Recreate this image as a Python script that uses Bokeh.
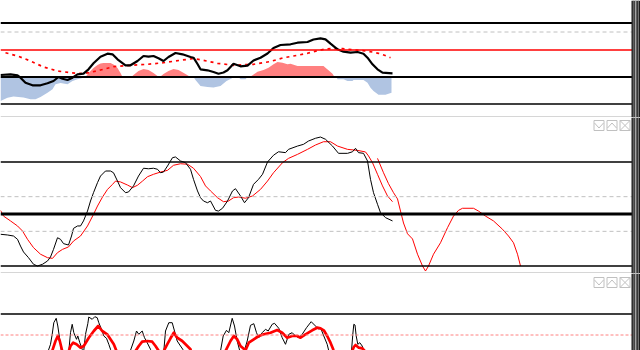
import numpy as np
from bokeh.plotting import figure
from bokeh.layouts import column
from bokeh.models import Range1d, Span, BoxAnnotation
from bokeh.embed import file_html
from bokeh.resources import INLINE

# ---------------- Panel 1: MACD-like oscillator ----------------
macd_x = [0,10,17,20,25,32,40,47,53,58,62,67,72,77,83,88,93,100,107,112,
          117,125,130,137,143,148,153,158,163,168,175,182,190,193,197,200,207,213,218,223,
          227,233,240,247,253,260,267,273,280,290,297,307,313,320,325,330,337,343,350,357,
          363,367,372,377,382,392]
macd_v = [0.2,0.27,0.17,-0.07,-0.57,-0.83,-0.83,-0.63,-0.4,0.0,-0.17,-0.3,-0.07,0.27,0.33,0.77,1.37,2.03,2.33,2.27,
          1.77,1.17,1.17,1.6,2.1,2.03,2.1,1.87,1.6,2.0,2.4,2.27,2.0,1.93,1.3,0.77,0.67,0.5,0.33,0.45,
          0.67,1.33,1.07,1.13,1.65,1.93,2.35,2.9,3.2,3.27,3.43,3.5,3.75,3.87,3.77,3.33,2.77,2.53,2.43,2.5,
          2.33,1.93,1.27,0.77,0.43,0.37]
sig_x = [5,17,30,43,57,70,82,88,100,113,130,147,163,180,193,203,217,233,253,270,
         282,293,307,318,323,330,342,355,365,372,378,384,390]
sig_v = [2.43,2.1,1.6,1.0,0.6,0.43,0.33,0.43,0.7,1.03,1.17,1.27,1.43,1.67,1.85,1.67,1.37,1.17,1.27,1.55,
         1.9,2.1,2.37,2.65,2.77,2.83,2.83,2.7,2.6,2.5,2.37,2.17,1.93]
hist_x = [0,7,13,23,30,35,40,47,52,55,60,67,72,77,83,85,88,93,97,100,
          103,110,113,117,120,122,131,133,138,143,148,153,157,160,163,168,173,178,185,190,
          193,195,200,207,213,220,226,231,233,238,240,245,247,250,252,257,263,268,273,277,
          282,287,290,297,310,323,325,328,332,334,336,337,343,347,352,353,363,367,370,373,
          378,385,391]
hist_v = [-2.4,-2.07,-1.95,-2.05,-2.23,-2.23,-2.0,-1.57,-1.23,-0.73,-0.6,-0.73,-0.4,-0.23,-0.07,0,0.4,0.9,1.2,1.35,
          1.4,1.4,1.25,0.9,0.4,0,0,0.2,0.6,0.8,0.7,0.4,0.1,0.05,0.3,0.6,0.8,0.7,0.3,0,
          0,-0.3,-0.9,-1.0,-1.05,-0.9,-0.4,-0.15,0,0,-0.23,-0.23,0,0.05,0.17,0.53,0.7,0.93,1.27,1.5,
          1.43,1.27,1.33,1.1,1.1,1.1,0.93,0.67,0.33,0,0,-0.23,-0.23,-0.4,-0.4,-0.3,-0.3,-0.57,-1.07,-1.4,
          -1.77,-1.77,-1.57]
p1_levels_thick = [5.4, 0.0]
p1_level_dash = 4.5
p1_level_red = 2.7
p1_level_thin = -2.7
p1_sep = -4.0

# ---------------- Panel 2: stochastic ----------------
k_x = [0,7,13,17,20,23,28,33,37,42,47,50,53,57,60,63,68,71,73,77,
       80,83,87,90,93,97,100,105,110,113,117,120,125,128,133,138,143,148,153,157,
       160,163,167,172,175,180,185,190,193,197,200,203,207,210,215,218,222,227,232,235,
       240,244,248,253,258,262,267,273,278,285,288,297,303,308,315,320,325,332,338,347,
       352,355,358,363,367,370,373,377,380,385,392]
k_v = [38.3,37.9,37.3,35.4,31.5,28.1,24.8,21.0,20.0,21.0,22.9,25.2,29.6,36.3,35.4,32.9,32.1,37.3,41.7,43.1,
       43.1,46.0,51.7,57.5,62.3,68.1,71.9,74.8,74.8,73.8,69.0,65.2,62.3,62.7,66.2,71.9,76.4,76.1,76.4,75.8,
       73.8,74.2,77.7,82.5,82.9,80.6,79.6,75.8,70.0,63.3,59.4,57.5,56.5,57.5,52.1,51.7,53.3,57.5,63.3,64.6,
       60.4,56.5,59.4,67.1,70.0,72.9,80.0,83.9,85.9,85.4,87.3,89.2,90.2,92.1,93.7,94.4,93.1,89.2,85.0,85.0,
       85.9,87.9,85.4,85.0,80.6,70.0,62.3,55.6,50.8,47.9,46.0]
d_x = [0,3,10,17,22,27,33,40,47,52,57,62,68,73,80,87,93,97,102,107,
       112,115,120,127,132,137,142,147,153,160,167,173,180,187,193,200,205,210,217,223,
       228,233,238,245,252,260,267,273,282,288,297,307,315,323,330,337,347,357,365,368,
       372,377,382,387,392]
d_v = [52.1,48.8,46.0,43.1,40.2,35.4,30.6,26.8,24.8,24.4,27.7,29.6,31.0,34.4,37.3,43.1,49.8,54.6,59.8,64.2,
       67.1,69.0,68.5,66.7,65.2,66.6,69.0,71.5,72.9,74.2,75.2,78.1,79.0,78.7,76.4,71.6,66.2,63.3,59.4,57.1,
       57.5,59.4,59.8,59.1,60.4,64.2,69.0,73.8,79.6,82.1,84.4,87.3,89.8,91.7,91.7,89.2,87.3,86.7,85.8,83.5,
       79.6,72.9,66.2,60.4,57.1]
d2_x = [377,383,388,393,397,400,403,407,412,417,422,425,428,433,440,447,453,458,462,473,
        478,485,493,502,508,513,517,520]
d2_v = [82.1,73.8,67.5,62.3,58.7,51.7,44.8,38.6,35.6,26.8,20.0,17.1,20.0,26.8,33.4,42.1,48.8,52.1,53.3,53.3,
        51.7,48.8,46.0,41.2,37.3,33.4,26.8,20.0]
p2_levels_thin = [80, 20]
p2_level_mid = 50
p2_levels_dash = [60, 40]
p2_sep = 15.96

# ---------------- Panel 3: fast oscillator ----------------
b3_x = [44,47.7,50,51.7,53.3,55.7,57.3,59,61,64,68.3,70,71.7,73.3,76,77.3,79.3,81.7,83,85,
        87.3,88.3,91.7,94.3,96.7,98.3,101.7,103.3,106,108.3,110,113,128,130,133.3,136,138.3,141.7,144,146.7,
        150,153,161,163.3,165,168.3,171.7,174,176.7,180,182.3,185,218,220,222.7,226,228.3,231.7,234,236.7,
        239.3,242,246.7,250,253.3,256,258.3,261.7,265,267.7,271.7,274,278.3,281.7,285,288.3,291.7,295,298.3,301.7,
        306,310.7,315,318.3,320,323.3,326.7,328.3,331,349,351,352.3,353.3,354.5,355.7,357.3,359.3,361.7,363.3,366]
b3_v = [-25,-16,-9.3,0.7,12.3,16.7,9,-2.7,-16,-28,-16,2.3,10.7,2.3,-4.3,-1,-7.7,-14.3,-18,0.7,
        11.3,18,15.7,18.3,17.3,12.3,4,-1,-3.3,-9.3,-14.3,-28,-28,-15.3,-6,4,0.7,4,-2.7,-7.7,
        -14.3,-28,-28,-16,4,12.3,12.3,4,-6,-11,-14.3,-28,-28,-16,-1,4.7,2.3,16.7,9,-6,
        -16,-22,-6,9.7,11.3,2.3,-2.7,2.3,5.7,4,10.7,11.7,6.7,-2.7,-9.3,0.7,2.3,-1,-2.7,0.7,
        7.3,13.3,9,5.7,7.3,-1,-9.3,-16,-28,-28,-16,0.7,10.7,10,-1,-9.3,-7.7,-11,-16,-28]
r3_x = [48,51.7,55,57.3,59.3,61.7,65,68.3,70,72.7,76,80,83.3,88.3,93.3,97.7,101.7,106.7,110,113.3,
        116,119,132,135,138.3,141.7,146.7,151.7,155,158.3,161,163.3,166.7,170,173.3,176.7,181.7,185,190,194,
        222,225,230,233.3,236.7,240,245,248.3,253.3,258.3,263.3,270,276.7,281.7,286.7,291.7,296.7,300,305,311.7,
        316.7,320,323.3,326.7,330,332.7,335,349,351.7,353.3,355,358.3,361.7,364.3,367]
r3_v = [-28,-16,-6,-1,-6,-16,-28,-16,-11,-7.7,-9.3,-12.7,-11,-2.7,4,9,4,0.7,-4.3,-9.3,
        -16,-28,-28,-16,-11,-6.7,-6,-6.7,-11,-16,-24,-16,-9.3,-3.3,2.3,-2.7,-6,-9.3,-14.3,-28,
        -28,-16,-6,-1,-4.3,-11,-15.3,-7.7,-4.3,-1,0.7,2.3,5,2.3,-2.7,-1,-1,-2.7,0.7,4.7,
        7.3,6.7,4.7,-1,-7.7,-14.3,-28,-28,-16,-12,-10,-12.7,-13.3,-16,-28]
p3_level_line = 21
p3_level_dash = 0

W = 640
GRID_GRAY = "#c0c0c0"
SEP_GRAY = "#c8c8c8"


def make_fig(h, y0, y1):
    p = figure(width=W, height=h, x_range=Range1d(0, W), y_range=Range1d(y0, y1),
               x_axis_location=None, y_axis_location=None, toolbar_location=None,
               output_backend="svg", min_border=0, outline_line_color=None,
               background_fill_color="white", border_fill_color="white")
    p.grid.visible = False
    return p


def hline(p, v, color="black", width=1, dash="solid"):
    p.add_layout(Span(location=v, dimension="width", line_color=color,
                      line_width=width, line_dash=dash))


def right_strip(p):
    p.add_layout(BoxAnnotation(left=631, right=640, fill_color="#1c1c1c", fill_alpha=1,
                               line_color=None, level="overlay"))
    for l, r, c in [(632.3, 633.2, "#7c7c7c"), (634.2, 636.0, "#a4a4a4"), (637.2, 638.4, "#7c7c7c")]:
        p.add_layout(BoxAnnotation(left=l, right=r, fill_color=c, fill_alpha=1,
                                   line_color=None, level="overlay"))


def icons(p, ymap, top):
    lefts = [593.5, 606.5, 619.5]
    s = 10
    p.quad(left=lefts, right=[l + s for l in lefts], top=[ymap(top)] * 3,
           bottom=[ymap(top + s)] * 3, fill_color=None, line_color=GRID_GRAY, line_width=1)
    a, b, c = lefts
    xs = [[a + 0.5, a + 5, a + 9.5], [b + 0.5, b + 5, b + 9.5], [c, c + s], [c, c + s]]
    ys = [[top + 2.5, top + 7.5, top + 2.5], [top + 7.5, top + 2.5, top + 7.5],
          [top, top + s], [top + s, top]]
    p.multi_line(xs, [[ymap(v) for v in y] for y in ys], line_color=GRID_GRAY, line_width=1)


# ---- figure 1 (rows 0..116)
f1 = make_fig(117, -4.05, 7.65)
h = np.array(hist_v)
f1.varea(x=hist_x, y1=0, y2=np.where(h > 0, h, 0), fill_color="#ff8080")
f1.varea(x=hist_x, y1=0, y2=np.where(h < 0, h, 0), fill_color="#b0c4e2")
f1.line(sig_x, sig_v, line_color="red", line_width=1.7, line_dash="3 4")
f1.line(macd_x, macd_v, line_color="black", line_width=2.2)
for v in p1_levels_thick:
    hline(f1, v, width=2.2)
hline(f1, p1_level_dash, GRID_GRAY, 1, "4 3")
hline(f1, p1_level_red, "#ff0000", 1.5)
hline(f1, p1_level_thin, "black", 1.3)
hline(f1, p1_sep, SEP_GRAY, 1.5)
right_strip(f1)

# ---- figure 2 (rows 117..272)
k = 30.0 / 52.0
f2 = make_fig(156, 50 + (213 - 272.5) * k, 50 + (213 - 116.5) * k)
for v in p2_levels_dash:
    hline(f2, v, GRID_GRAY, 1, "4 3")
f2.line(d_x, d_v, line_color="red", line_width=1)
f2.line(d2_x, d2_v, line_color="red", line_width=1)
f2.line(k_x, k_v, line_color="black", line_width=1)
for v in p2_levels_thin:
    hline(f2, v, "black", 1.5)
hline(f2, p2_level_mid, "black", 3)
hline(f2, p2_sep, SEP_GRAY, 1.5)
icons(f2, lambda py: 50 + (213 - py) * k, 119.5)
right_strip(f2)

# ---- figure 3 (rows 273..349)
f3 = make_fig(77, 334 - 349.5, 334 - 272.5)
hline(f3, p3_level_dash, "#ff8080", 1, "3 2")
hline(f3, p3_level_line, "black", 1.5)
f3.line(b3_x, b3_v, line_color="black", line_width=1)
f3.line(r3_x, r3_v, line_color="red", line_width=2.7, line_join="round")
icons(f3, lambda py: 334 - py, 276.5)
right_strip(f3)

layout = column(f1, f2, f3, spacing=0)
open("out.html", "w").write(file_html(layout, INLINE))
